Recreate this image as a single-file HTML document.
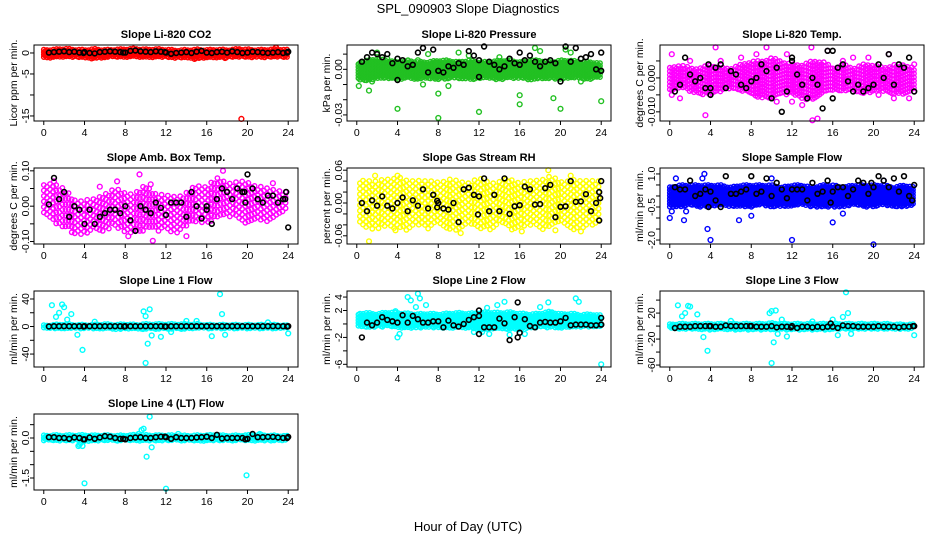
<!DOCTYPE html>
<html><head><meta charset="utf-8"><style>
html,body{margin:0;padding:0;background:#fff;width:936px;height:540px;overflow:hidden}
svg text{font-family:"Liberation Sans",sans-serif}
</style></head><body>
<svg id="chart" width="936" height="540" viewBox="0 0 936 540" xmlns="http://www.w3.org/2000/svg">
<rect width="936" height="540" fill="#fff"/>
<text x="468" y="13" font-size="13" text-anchor="middle">SPL_090903  Slope Diagnostics</text>
<text x="468" y="531" font-size="13" text-anchor="middle">Hour of Day (UTC)</text>
</svg>
<script>
// hourly band bounds (lo/hi), outliers [hour,value], black values at half-hours 0.5..24, extra black [hour,value]
const xTicks=[0,4,8,12,16,20,24];
const p1Lo=[-1.1,-1.2,-1.0,-1.1,-1.2,-1.3,-1.1,-1.0,-1.1,-1.0,-1.2,-1.1,-1.1,-1.3,-1.1,-1.4,-1.1,-1.2,-1.1,-1.0,-1.1,-1.0,-1.1,-1.0,-1.1];
const p1Hi=[0.8,0.9,1.1,0.9,0.8,1.0,0.8,0.9,1.0,1.1,0.9,1.0,0.9,0.7,0.8,0.9,0.8,0.9,0.8,1.0,0.9,0.8,0.9,1.0,0.8];
const p1Out=[[19.4,-15.7],[22.8,1.3],[19.2,0.9],[14.8,-1.4],[4.7,-1.3],[17.8,-1.2]];
const p1Black=[0.1,0.2,0.3,0.4,0.2,0.3,0.1,0.2,0.0,-0.1,0.2,0.3,0.4,0.3,0.2,0.1,0.5,0.6,0.4,0.3,0.2,0.4,0.3,0.1,-0.2,0.0,0.1,0.2,0.0,0.3,0.5,0.1,0.0,0.2,0.3,0.1,0.4,0.2,0.0,0.1,0.3,0.2,0.1,0.0,0.1,0.2,0.0,0.3];
const p1BlackX=[[3.9,0.0],[7.8,0.1],[11.9,0.2],[23.9,0.1]];

const p2Lo=[-0.007,-0.008,-0.006,-0.006,-0.007,-0.006,-0.007,-0.006,-0.007,-0.006,-0.006,-0.007,-0.006,-0.006,-0.007,-0.006,-0.006,-0.007,-0.006,-0.006,-0.007,-0.006,-0.006,-0.007,-0.005];
const p2Hi=[0.004,0.006,0.007,0.006,0.005,0.006,0.005,0.005,0.006,0.006,0.005,0.006,0.005,0.005,0.006,0.006,0.005,0.006,0.006,0.005,0.006,0.006,0.005,0.005,0.004];
const p2Out=[[1.2,-0.014],[4,-0.026],[8,-0.016],[8,-0.032],[12,-0.028],[16,-0.017],[16,-0.023],[19.3,-0.019],[20,-0.026],[24,-0.021],[0.2,-0.011],[1.5,-0.008],[2,0.011],[7,0.010],[10,0.011],[14,0.008],[20.5,0.013],[21,0.011],[17.5,0.014],[18,0.012],[6,0.006],[3,0.007],[13.5,0.004],[9,-0.011],[22,-0.008],[6.5,-0.010],[11,0.009]];
const p2Black=[0.005,0.008,0.011,0.010,0.008,0.010,0.004,0.007,0.006,0.002,0.003,0.011,0.014,-0.002,0.013,-0.001,-0.002,0.002,0.001,0.004,0.003,0.012,0.009,0.006,0.015,0.005,0.003,0.000,0.002,0.007,0.004,0.011,0.006,0.009,0.005,0.002,0.005,0.006,0.004,-0.008,0.015,0.005,0.014,0.007,0.008,0.010,0.000,0.011];
const p2BlackX=[[4,-0.007],[12,-0.005],[24,-0.001],[16,0.003]];

const p3Lo=[-0.004,-0.003,-0.004,-0.005,-0.005,-0.004,-0.003,-0.004,-0.005,-0.006,-0.006,-0.005,-0.005,-0.006,-0.007,-0.005,-0.004,-0.004,-0.004,-0.005,-0.004,-0.004,-0.005,-0.005,-0.004];
const p3Hi=[0.003,0.004,0.003,0.003,0.004,0.003,0.003,0.004,0.005,0.005,0.006,0.005,0.004,0.004,0.005,0.005,0.003,0.004,0.003,0.004,0.004,0.003,0.004,0.004,0.003];
const p3Out=[[0.2,0.007],[0.2,-0.005],[3.5,-0.011],[4.5,0.009],[7,0.006],[9.5,0.009],[10.5,-0.007],[11.5,0.007],[12,-0.007],[13,-0.008],[13.9,0.009],[14,-0.0125],[14.5,-0.012],[15.5,0.008],[19.5,0.006],[20.5,-0.005],[21.5,0.007],[22,-0.006],[23.5,-0.006],[24,0.004],[2,0.005],[5,0.005],[17,0.005],[8.5,0.007],[1,-0.006],[18,0.006]];
const p3Black=[-0.004,-0.002,0.006,0.001,-0.001,0.000,-0.003,-0.005,0.003,0.004,-0.003,0.002,0.001,-0.002,-0.003,-0.001,0.000,0.004,0.002,-0.006,0.003,-0.010,-0.004,0.006,0.001,-0.002,-0.006,0.000,-0.002,-0.009,0.008,-0.006,0.003,0.004,-0.001,-0.004,-0.002,-0.004,-0.003,-0.002,0.004,0.000,0.007,-0.002,0.004,0.003,0.006,-0.004];
const p3BlackX=[[3.8,0.004],[4,-0.003],[12,0.005],[16,0.008]];

const p4Lo=[-0.03,-0.05,-0.06,-0.08,-0.08,-0.07,-0.07,-0.06,-0.08,-0.08,-0.07,-0.07,-0.07,-0.08,-0.06,-0.05,-0.05,-0.04,-0.03,-0.04,-0.05,-0.04,-0.05,-0.03,0.0];
const p4Hi=[0.06,0.07,0.05,0.02,0.02,0.02,0.04,0.05,0.04,0.04,0.06,0.04,0.03,0.03,0.04,0.06,0.06,0.08,0.07,0.07,0.07,0.06,0.05,0.05,0.04];
const p4Out=[[10.7,-0.098],[17.6,0.1],[9.4,0.09],[7.2,0.07],[1,0.07],[14,-0.085],[8.3,-0.085],[22.5,0.065],[5.5,0.055],[10.5,0.062]];
const p4Black=[0.005,0.08,0.02,0.04,-0.03,0.0,-0.01,-0.05,-0.01,-0.05,-0.03,-0.02,-0.01,-0.01,-0.02,0.0,-0.04,-0.07,0.0,-0.01,-0.02,0.01,-0.005,-0.025,0.01,0.01,0.01,-0.03,0.04,0.0,-0.035,-0.01,-0.05,0.02,0.05,0.04,0.02,0.05,0.04,0.09,0.05,0.02,0.01,0.03,0.03,0.01,0.02,-0.06];
const p4BlackX=[[23.8,0.04],[23.7,0.02],[19.7,0.04],[19.8,0.01],[16,0.0]];

const p5Lo=[-0.04,-0.05,-0.05,-0.04,-0.05,-0.05,-0.04,-0.05,-0.04,-0.05,-0.05,-0.04,-0.05,-0.05,-0.04,-0.05,-0.05,-0.04,-0.05,-0.05,-0.04,-0.05,-0.05,-0.04,-0.04];
const p5Hi=[0.04,0.045,0.04,0.045,0.05,0.04,0.045,0.04,0.04,0.045,0.04,0.04,0.045,0.04,0.04,0.045,0.04,0.04,0.045,0.05,0.04,0.045,0.04,0.045,0.04];
const p5Out=[[1.2,-0.07],[18.8,0.06],[10.2,-0.055],[16.2,-0.052],[3.8,-0.05],[19.5,-0.05],[22,-0.052],[1.8,0.05],[4,0.05],[21,0.05]];
const p5Black=[0.0,-0.015,0.005,-0.005,0.012,-0.005,-0.01,0.0,0.01,-0.015,0.005,-0.005,0.025,-0.01,0.015,0.0,-0.01,-0.012,0.0,-0.035,0.025,0.028,0.015,0.012,0.045,-0.015,0.015,-0.015,0.045,-0.02,-0.006,-0.004,0.03,0.025,-0.003,-0.002,0.027,0.033,-0.026,-0.007,-0.006,0.04,0.002,0.003,0.016,-0.015,0.0,0.04];
const p5BlackX=[[23.8,-0.032],[23.8,0.02],[23.9,0.009],[11.9,-0.021],[7.9,-0.008],[7.9,0.004]];

const p6Lo=[-0.5,-0.5,-0.4,-0.5,-0.5,-0.4,-0.5,-0.5,-0.5,-0.4,-0.5,-0.5,-0.5,-0.4,-0.5,-0.5,-0.5,-0.5,-0.4,-0.5,-0.5,-0.4,-0.5,-0.5,-0.4];
const p6Hi=[0.4,0.5,0.5,0.5,0.5,0.5,0.4,0.5,0.5,0.5,0.5,0.4,0.5,0.5,0.4,0.5,0.5,0.4,0.5,0.5,0.5,0.5,0.4,0.5,0.4];
const p6Out=[[0,-1.0],[1.4,-1.1],[3.4,1.0],[3.7,-1.5],[4,-2.0],[6.8,-1.1],[8,-0.9],[10,0.8],[12,-2.0],[16,-1.2],[17,-0.8],[20,-2.2],[0.2,-0.7],[3.2,0.8],[21,0.7],[0.6,0.8],[1.6,-0.7]];
const p6Black=[0.4,0.3,0.3,0.7,0.0,0.1,0.3,0.2,-0.2,-0.5,0.9,0.1,0.1,0.2,0.3,0.9,0.1,0.2,0.8,0.0,0.6,0.3,-0.1,0.3,0.3,0.3,-0.2,0.6,0.1,0.2,0.7,0.2,0.4,0.4,0.0,0.3,0.7,0.6,0.1,0.4,0.9,0.7,0.4,0.8,0.2,0.9,0.0,0.5];
const p6BlackX=[[3.8,-0.5],[15.8,-0.3],[19.8,0.6],[23.8,-0.2]];

const p7Lo=[-2,-3,-3,-3,-3,-4,-3,-4,-4,-4,-4,-4,-4,-4,-4,-3,-3,-3,-3,-3,-3,-3,-3,-3,-2];
const p7Hi=[2,3,4,3,3,3,4,3,4,3,4,4,4,4,4,4,3,3,3,3,3,3,3,3,2];
const p7Out=[[0.8,31],[1.8,32],[2,28],[1.5,20],[2.7,18],[1.2,14],[3.3,-12],[3.8,-34],[10,-53],[10.2,-25],[9.8,22],[10.4,25],[10.6,-13],[11.5,-15],[17.3,47],[17.5,18],[16.5,-14],[17.8,-12],[24,-10],[10,15],[5,7],[14,8],[15,8],[22,6],[2.3,10],[12.5,-8]];
const p7Black=[0,0.5,0.5,0.5,0.5,0.5,0.5,0.5,0.5,0.5,0.5,0.5,0.5,0.5,0.5,0.5,0.5,0.5,0.5,0.5,0.5,0.5,0.5,0,0.5,0.5,0.5,0.5,0.5,0.5,0.5,0.5,0.5,0.5,0.5,0.5,0.5,0.5,0.5,0.5,0.5,0.5,0.5,0.5,0.5,0.5,0.5,0.5];
const p7BlackX=[[3.9,0],[7.9,0],[11.9,0],[23.9,0]];

const p8Lo=[-0.5,-0.6,-0.5,-0.4,-0.6,-0.7,-0.6,-0.5,-0.6,-0.7,-0.6,-0.7,-0.9,-0.8,-0.7,-0.8,-0.9,-0.6,-0.5,-0.6,-0.6,-0.5,-0.5,-0.4,-0.4];
const p8Hi=[1.6,1.7,1.5,1.8,1.7,1.6,1.5,1.6,1.5,1.6,1.7,1.6,1.7,1.8,1.7,1.8,1.6,1.5,1.6,1.9,1.5,1.6,1.4,1.5,1.3];
const p8Out=[[4,-2],[4.2,-1.5],[5,4],[5.3,3.5],[6,4.5],[6.2,3.8],[5.8,2.5],[6.8,2.8],[14.5,3.3],[13.8,2.8],[21.5,3.8],[21.8,3.3],[18.8,3.2],[18,2.5],[24,-6],[12.8,2.4],[13,-1.5],[15,-1.6],[12.3,-1.2],[3.8,1.9],[11.5,-1.2],[16.5,-1.5]];
const p8Black=[-2.0,0.2,-0.2,0.2,1.0,0.6,0.4,0.2,1.3,0.2,1.2,0.7,0.2,0.2,0.4,0.4,-0.5,0.5,-0.2,-0.4,0.0,0.6,1.0,-1.5,-0.5,-0.5,-0.5,0.8,0.1,-2.4,1.0,-1.3,0.7,-0.3,-0.5,0.2,0.3,0.2,0.2,0.4,0.9,-0.2,-0.1,-0.1,-0.1,-0.2,-0.2,-0.1];
const p8BlackX=[[12,2.0],[15.8,3.2],[15.8,-2.0],[24,-0.1],[24,0.9],[12,1.2]];

const p9Lo=[-4,-5,-5,-5,-6,-5,-6,-6,-6,-6,-6,-6,-6,-6,-6,-6,-5,-5,-5,-5,-5,-5,-5,-5,-4];
const p9Hi=[3,4,4,4,4,4,4,4,4,4,5,4,4,4,4,4,4,4,4,4,4,4,3,3,3];
const p9Out=[[0.8,32],[1.8,31],[2,30],[1.5,20],[1.2,15],[2.7,18],[3.3,-17],[3.7,-38],[10,-57],[10.2,-25],[9.8,20],[10,23],[10.4,24],[10.6,-12],[11.5,-16],[17.3,52],[17.5,20],[16.5,-14],[17.8,-12],[24,-14],[16,10],[17,14],[6,8],[14,7],[11,10]];
const p9Black=[-3,-1,-1,-1,0,0,0,0,-1,-1,1,0,0,0,0,0,-1,-1,-1,0,-2,-1,-1,0,-3,-1,-1,-2,-1,-2,-1,-1,-3,1,0,0,-1,-1,-1,-1,0,-1,-1,-1,-2,-1,-1,0];
const p9BlackX=[[3.9,0],[7.9,0],[11.9,-2],[15.8,4],[23.9,0]];

const p10Lo=[-0.10,-0.12,-0.11,-0.10,-0.13,-0.12,-0.10,-0.11,-0.10,-0.11,-0.12,-0.10,-0.11,-0.10,-0.11,-0.10,-0.12,-0.10,-0.11,-0.10,-0.12,-0.10,-0.11,-0.10,-0.09];
const p10Hi=[0.10,0.12,0.11,0.12,0.12,0.11,0.12,0.10,0.11,0.13,0.12,0.11,0.12,0.11,0.10,0.11,0.12,0.12,0.10,0.11,0.12,0.13,0.11,0.10,0.09];
const p10Out=[[3.5,-0.25],[3.8,-0.3],[3.6,-0.2],[4,-1.7],[9.3,0.15],[9.6,0.3],[9.8,0.35],[10.1,-0.7],[10.4,0.8],[10.6,-0.35],[12,-1.9],[19.9,-1.4],[11,0.1],[13.2,0.15],[17,0.1],[21.2,0.15],[3.4,-0.3]];
const p10Black=[0.03,0.03,0.0,0.0,-0.03,0.02,0.0,-0.05,0.02,-0.03,0.02,0.07,0.05,0.0,-0.03,-0.05,0.0,0.02,0.03,0.0,0.0,0.03,0.05,0.03,-0.03,0.03,0.0,0.0,0.0,0.02,0.03,0.05,0.0,0.12,-0.02,0.0,0.0,0.0,0.0,-0.03,0.15,0.03,0.03,0.04,0.04,0.02,0.0,0.04];
const p10BlackX=[[3.9,-0.05],[7.8,-0.03],[11.9,0.05],[19.8,-0.05],[23.9,0.0]];

const p1Ticks=[0,-5,-10,-15], p1Labels=["0","-5","","-15"];
const p2Ticks=[0.01,0,-0.01,-0.02,-0.03], p2Labels=["","0.00","","","-0.03"];
const p3Ticks=[0.005,0,-0.005,-0.01], p3Labels=["","0.000","","-0.010"];
const p4Ticks=[0.1,0.05,0,-0.05,-0.1], p4Labels=["0.10","","0.00","","-0.10"];
const p5Ticks=[0.06,0.04,0.02,0,-0.02,-0.04,-0.06], p5Labels=["0.06","","","0.00","","","-0.06"];
const p6Ticks=[1,0.5,0,-0.5,-1,-1.5,-2], p6Labels=["1.0","","","-0.5","","","-2.0"];
const p7Ticks=[40,20,0,-20,-40], p7Labels=["40","","0","","-40"];
const p8Ticks=[4,2,0,-2,-4,-6], p8Labels=["4","2","","-2","","-6"];
const p9Ticks=[40,20,0,-20,-40,-60], p9Labels=["","20","","-20","","-60"];
const p10Ticks=[0.5,0,-0.5,-1,-1.5], p10Labels=["","0.0","","","-1.5"];

const svg=document.getElementById('chart');
const NS='http://www.w3.org/2000/svg';
function mk(tag,attrs,parent){const e=document.createElementNS(NS,tag);for(const k in attrs)e.setAttribute(k,attrs[k]);(parent||svg).appendChild(e);return e;}

const W=264,H=76;
const panels=[
 {id:'co2',title:'Slope Li-820 CO2',yl:'Licor ppm per min.',x:34,y:45,ymin:-16.2,ymax:1.9,col:'#ff0000',lo:p1Lo,hi:p1Hi,out:p1Out,bk:p1Black,bkx:p1BlackX,t:p1Ticks,tl:p1Labels,step:2.5,sx:1.6},
 {id:'pressure',title:'Slope Li-820 Pressure',yl:'kPa per min.',x:347,y:45,ymin:-0.034,ymax:0.016,col:'#22c022',lo:p2Lo,hi:p2Hi,out:p2Out,bk:p2Black,bkx:p2BlackX,t:p2Ticks,tl:p2Labels,step:2.8,sx:1.6},
 {id:'temp',title:'Slope Li-820 Temp.',yl:'degrees C per min.',x:660,y:45,ymin:-0.0127,ymax:0.0097,col:'#ff00ff',lo:p3Lo,hi:p3Hi,out:p3Out,bk:p3Black,bkx:p3BlackX,t:p3Ticks,tl:p3Labels,step:3.6,sx:2.2},
 {id:'amb-box-temp',title:'Slope Amb. Box Temp.',yl:'degrees C per min.',x:34,y:168,ymin:-0.107,ymax:0.108,col:'#ff00ff',lo:p4Lo,hi:p4Hi,out:p4Out,bk:p4Black,bkx:p4BlackX,t:p4Ticks,tl:p4Labels,step:5.5,sx:3.1},
 {id:'gas-stream-rh',title:'Slope Gas Stream RH',yl:'percent per min.',x:347,y:168,ymin:-0.075,ymax:0.064,col:'#ffff00',lo:p5Lo,hi:p5Hi,out:p5Out,bk:p5Black,bkx:p5BlackX,t:p5Ticks,tl:p5Labels,step:5.5,sx:3.1},
 {id:'sample-flow',title:'Slope Sample Flow',yl:'ml/min per min.',x:660,y:168,ymin:-2.18,ymax:1.27,col:'#0000ff',lo:p6Lo,hi:p6Hi,out:p6Out,bk:p6Black,bkx:p6BlackX,t:p6Ticks,tl:p6Labels,step:2.8,sx:1.6},
 {id:'line1-flow',title:'Slope Line 1 Flow',yl:'ml/min per min.',x:34,y:291,ymin:-58.8,ymax:51.6,col:'#00ffff',lo:p7Lo,hi:p7Hi,out:p7Out,bk:p7Black,bkx:p7BlackX,t:p7Ticks,tl:p7Labels,step:2.5,sx:1.6},
 {id:'line2-flow',title:'Slope Line 2 Flow',yl:'ml/min per min.',x:347,y:291,ymin:-6.4,ymax:4.9,col:'#00ffff',lo:p8Lo,hi:p8Hi,out:p8Out,bk:p8Black,bkx:p8BlackX,t:p8Ticks,tl:p8Labels,step:2.8,sx:1.6},
 {id:'line3-flow',title:'Slope Line 3 Flow',yl:'ml/min per min.',x:660,y:291,ymin:-63,ymax:54,col:'#00ffff',lo:p9Lo,hi:p9Hi,out:p9Out,bk:p9Black,bkx:p9BlackX,t:p9Ticks,tl:p9Labels,step:2.5,sx:1.6},
 {id:'line4-flow',title:'Slope Line 4 (LT) Flow',yl:'ml/min per min.',x:34,y:414,ymin:-1.95,ymax:0.9,col:'#00ffff',lo:p10Lo,hi:p10Hi,out:p10Out,bk:p10Black,bkx:p10BlackX,t:p10Ticks,tl:p10Labels,step:2.6,sx:1.6}
];
const offs=[0,0.53,0.21,0.79,0.37,0.9,0.12,0.64];

panels.forEach(p=>{
 const g=mk('g',{});
 
 
 const sx=h=>p.x+(h+0.96)/25.92*W;
 const sy=v=>p.y+(p.ymax-v)/(p.ymax-p.ymin)*H;
 const t=mk('text',{x:p.x+W/2,y:p.y-7,'font-size':11,'font-weight':'bold','text-anchor':'middle'},g);
 t.textContent=p.title;
 
 
 const yt=mk('text',{transform:`translate(${p.x-17},${p.y+H/2}) rotate(-90)`,'font-size':10.5,'text-anchor':'middle'},g);
 yt.textContent=p.yl;
 
 
 const cs=mk('g',{fill:'none',stroke:p.col,'stroke-width':1.4},g);
 
 
 const n=p.lo.length;
 const interp=(arr,h)=>{const i=Math.min(n-2,Math.floor(h));const f=h-i;return arr[i]*(1-f)+arr[i+1]*f;};
 let col=0;
 for(let xx=sx(0); xx<=sx(24)+0.01; xx+=p.sx){
  const h=Math.min(24,(xx-p.x)/W*25.92-0.96);
  const ylo=sy(interp(p.lo,h)), yhi=sy(interp(p.hi,h));
  const off=offs[col%offs.length]*p.step; col++;
  for(let yy=yhi+off; yy<=ylo; yy+=p.step){
   const c=mk('circle',{cx:xx.toFixed(1),cy:yy.toFixed(1),r:2.2},cs);
   
   
  }
 }
 p.out.forEach(o=>{
  const c=mk('circle',{cx:sx(o[0]).toFixed(1),cy:sy(o[1]).toFixed(1),r:2.4},cs);
  
  
 });
 const bs=mk('g',{fill:'none',stroke:'#000','stroke-width':1.6},g);
 
 
 p.bk.forEach((v,i)=>{
  const c=mk('circle',{cx:sx(0.5+i*0.5).toFixed(1),cy:sy(v).toFixed(1),r:2.4},bs);
  
  
 });
 p.bkx.forEach(o=>{
  const c=mk('circle',{cx:sx(o[0]).toFixed(1),cy:sy(o[1]).toFixed(1),r:2.4},bs);
  
  
 });
 const box=mk('rect',{x:p.x,y:p.y,width:W,height:H,fill:'none',stroke:'#000','stroke-width':1},g);
 
 
 const xa=mk('g',{},g);
 
 
 xTicks.forEach(h=>{
  mk('line',{x1:sx(h),x2:sx(h),y1:p.y+H,y2:p.y+H+4,stroke:'#000'},xa);
  const l=mk('text',{x:sx(h),y:p.y+H+15,'font-size':10.5,'text-anchor':'middle'},xa);
  l.textContent=h;
  
  
 });
 const ya=mk('g',{},g);
 
 
 p.t.forEach((v,i)=>{
  const yy=sy(v);
  mk('line',{x1:p.x-4,x2:p.x,y1:yy,y2:yy,stroke:'#000'},ya);
  if(p.tl[i]){
   const l=mk('text',{transform:`translate(${p.x-5},${yy}) rotate(-90)`,'font-size':10.5,'text-anchor':'middle'},ya);
   l.textContent=p.tl[i];
   
   
  }
 });
});
</script>
</body></html>
